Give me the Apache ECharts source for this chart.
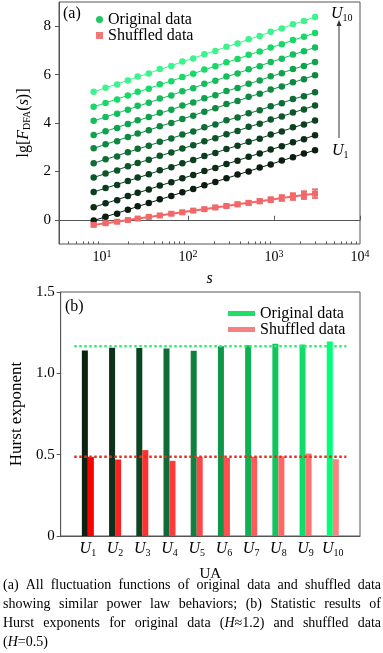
<!DOCTYPE html>
<html><head><meta charset="utf-8">
<script src="https://cdn.jsdelivr.net/npm/echarts@6/dist/echarts.min.js"></script>
<style>html,body{margin:0;padding:0;background:#fff}#c{width:383px;height:653px}</style>
</head><body><div id="c"></div>
<script>
// ---------- DATA ----------
const seriesNames = ['U1','U2','U3','U4','U5','U6','U7','U8','U9','U10'];
const sValues = [8, 11, 15, 20, 26, 35, 47, 64, 86, 115, 155, 208, 280, 377, 507, 682, 916, 1233, 1660, 2230, 3000];
const lgF_U1  = [-0.03, 0.13, 0.25, 0.42, 0.56, 0.69, 0.85, 0.98, 1.14, 1.27, 1.43, 1.56, 1.72, 1.87, 2.00, 2.16, 2.29, 2.45, 2.58, 2.74, 2.87];
const lgF_U2  = [0.52, 0.68, 0.81, 0.98, 1.12, 1.25, 1.42, 1.55, 1.72, 1.85, 2.02, 2.14, 2.31, 2.44, 2.61, 2.74, 2.91, 3.04, 3.20, 3.33, 3.49];
const lgF_U3  = [1.15, 1.31, 1.44, 1.60, 1.75, 1.88, 2.05, 2.17, 2.34, 2.47, 2.64, 2.76, 2.93, 3.06, 3.23, 3.35, 3.52, 3.65, 3.82, 3.94, 4.10];
const lgF_U4  = [1.75, 1.91, 2.04, 2.21, 2.35, 2.48, 2.65, 2.78, 2.95, 3.08, 3.25, 3.37, 3.54, 3.67, 3.84, 3.97, 4.14, 4.27, 4.43, 4.56, 4.72];
const lgF_U5  = [2.34, 2.50, 2.62, 2.79, 2.94, 3.06, 3.23, 3.36, 3.52, 3.65, 3.82, 3.94, 4.11, 4.23, 4.40, 4.53, 4.69, 4.82, 4.99, 5.11, 5.27];
const lgF_U6  = [2.96, 3.12, 3.25, 3.42, 3.57, 3.70, 3.87, 4.00, 4.17, 4.30, 4.47, 4.61, 4.78, 4.91, 5.08, 5.21, 5.38, 5.51, 5.68, 5.81, 5.97];
const lgF_U7  = [3.50, 3.66, 3.79, 3.96, 4.11, 4.25, 4.42, 4.55, 4.72, 4.85, 5.02, 5.15, 5.32, 5.45, 5.62, 5.76, 5.93, 6.06, 6.23, 6.36, 6.52];
const lgF_U8  = [4.09, 4.25, 4.38, 4.55, 4.71, 4.84, 5.01, 5.14, 5.31, 5.44, 5.62, 5.75, 5.92, 6.05, 6.22, 6.35, 6.52, 6.66, 6.83, 6.96, 7.12];
const lgF_U9  = [4.67, 4.83, 4.97, 5.14, 5.29, 5.42, 5.60, 5.73, 5.90, 6.03, 6.21, 6.34, 6.51, 6.64, 6.82, 6.95, 7.12, 7.25, 7.43, 7.56, 7.72];
const lgF_U10 = [5.29, 5.46, 5.59, 5.76, 5.92, 6.05, 6.23, 6.36, 6.54, 6.67, 6.84, 6.98, 7.15, 7.29, 7.46, 7.60, 7.77, 7.91, 8.08, 8.21, 8.38];
const lgF_shuffled    = [-0.21, -0.14, -0.08, -0.01, 0.05, 0.12, 0.18, 0.25, 0.31, 0.38, 0.44, 0.51, 0.57, 0.64, 0.70, 0.77, 0.83, 0.90, 0.96, 1.02, 1.08];
const lgF_shuffledErr = [0.05, 0.05, 0.05, 0.05, 0.05, 0.05, 0.05, 0.05, 0.06, 0.06, 0.06, 0.07, 0.07, 0.08, 0.08, 0.09, 0.10, 0.12, 0.14, 0.16, 0.18];
const hurstOriginal = [1.141, 1.158, 1.155, 1.153, 1.139, 1.167, 1.172, 1.182, 1.178, 1.196];
const hurstShuffled = [0.487, 0.470, 0.528, 0.462, 0.487, 0.480, 0.487, 0.490, 0.507, 0.472];
const hurstMeanOriginal = 1.167;
const hurstMeanShuffled = 0.487;
const meanLineSpan = [0.5, 10.5];
const xMajorTicks = [10, 100, 1000, 10000];
const xMinorTicks = [4,5,6,7,8,9,20,30,40,50,60,70,80,90,200,300,400,500,600,700,800,900,2000,3000,4000,5000,6000,7000,8000,9000];
const yTicksTop = [0, 2, 4, 6, 8];

// ---------- STYLE ----------
const F = '"Liberation Serif", "Times New Roman", serif';
const greens = ['#0b1c10','#0c2c17','#0c3f20','#0d552b','#0e6d36','#0f8842','#10a34e','#13be5b','#18d868','#3df48c'];
const barGreens = ['#0b2213','#0c3019','#0b4522','#0f6b37','#0f8040','#10984a','#10b054','#10c55e','#10dd69','#00ff78'];
const barReds = ['#ff0000','#ff2020','#ff3030','#ff3a3a','#ff4646','#ff5050','#ff5a5a','#ff6666','#ff7070','#ff8080'];
const shufColor = '#f26868';
const axisColor = '#555';
const allOrig = [lgF_U1,lgF_U2,lgF_U3,lgF_U4,lgF_U5,lgF_U6,lgF_U7,lgF_U8,lgF_U9,lgF_U10];

function fitLine(xs, ys) {
  const lx = xs.map(Math.log10), n = xs.length;
  const mx = lx.reduce((a,b)=>a+b,0)/n, my = ys.reduce((a,b)=>a+b,0)/n;
  let sxy = 0, sxx = 0;
  for (let i = 0; i < n; i++) { sxy += (lx[i]-mx)*(ys[i]-my); sxx += (lx[i]-mx)*(lx[i]-mx); }
  const b = sxy/sxx, a = my - b*mx;
  return [[xs[0], a + b*lx[0]], [xs[n-1], a + b*lx[n-1]]];
}

const series = [];
allOrig.forEach((arr, i) => {
  series.push({ name: 'fit ' + seriesNames[i], type: 'line', xAxisIndex: 0, yAxisIndex: 0,
    data: fitLine(sValues, arr), symbol: 'none', silent: true,
    lineStyle: { color: greens[i], width: 1 }, z: 2 });
  series.push({ name: 'Original data', type: 'scatter', xAxisIndex: 0, yAxisIndex: 0,
    data: sValues.map((s, k) => [s, arr[k]]), symbol: 'circle', symbolSize: 6.5,
    itemStyle: { color: greens[i], opacity: 1 }, z: 3 });
});
series.push({ name: 'Shuffled data', type: 'line', xAxisIndex: 0, yAxisIndex: 0,
  data: sValues.map((s, k) => [s, lgF_shuffled[k]]), symbol: 'rect', symbolSize: 6, showSymbol: true,
  lineStyle: { color: shufColor, width: 2 }, itemStyle: { color: shufColor }, z: 4 });
series.push({ name: 'Shuffled error', type: 'custom', xAxisIndex: 0, yAxisIndex: 0,
  data: sValues.map((s, k) => [s, lgF_shuffled[k] - lgF_shuffledErr[k], lgF_shuffled[k] + lgF_shuffledErr[k]]),
  encode: { x: 0, y: [1, 2] }, z: 4,
  renderItem: (params, api) => {
    const p1 = api.coord([api.value(0), api.value(1)]);
    const p2 = api.coord([api.value(0), api.value(2)]);
    const w = 3, st = { stroke: shufColor, lineWidth: 1.8 };
    return { type: 'group', children: [
      { type: 'line', shape: { x1: p1[0], y1: p1[1], x2: p2[0], y2: p2[1] }, style: st },
      { type: 'line', shape: { x1: p1[0]-w, y1: p1[1], x2: p1[0]+w, y2: p1[1] }, style: st },
      { type: 'line', shape: { x1: p2[0]-w, y1: p2[1], x2: p2[0]+w, y2: p2[1] }, style: st }
    ]};
  }
});
const catData = [''].concat(seriesNames, [' ']);
series.push({ name: 'Original data', type: 'bar', xAxisIndex: 2, yAxisIndex: 1, barWidth: 6, barGap: '0%',
  data: [null].concat(hurstOriginal.map((v, i) => ({ value: v, itemStyle: { color: barGreens[i] } })), [null]) });
series.push({ name: 'Shuffled data', type: 'bar', xAxisIndex: 2, yAxisIndex: 1, barWidth: 6, barGap: '0%',
  data: [null].concat(hurstShuffled.map((v, i) => ({ value: v, itemStyle: { color: barReds[i] } })), [null]) });
series.push({ name: 'H mean original', type: 'line', xAxisIndex: 3, yAxisIndex: 1, symbol: 'none', z: 5, silent: true,
  data: meanLineSpan.map(x => [x, hurstMeanOriginal]), lineStyle: { color: '#2ef070', width: 2.5, type: 'dotted' } });
series.push({ name: 'H mean shuffled', type: 'line', xAxisIndex: 3, yAxisIndex: 1, symbol: 'none', z: 5, silent: true,
  data: meanLineSpan.map(x => [x, hurstMeanShuffled]), lineStyle: { color: '#f02a18', width: 2.5, type: 'dotted' } });

// caption (justified)
const CAP = 14;
const mctx = document.createElement('canvas').getContext('2d');
function mw(t, it) { mctx.font = (it ? 'italic ' : '') + CAP + 'px "Liberation Serif"'; return mctx.measureText(t).width; }
function parseWord(w) {
  const parts = w.split('*'); let rich = '', width = 0;
  parts.forEach((p, i) => { if (!p) return; const it = i % 2 === 1; width += mw(p, it); rich += it ? '{i|' + p + '}' : p; });
  return { rich, width };
}
const captionLines = [
  ['(a) All fluctuation functions of original data and shuffled data', true],
  ['showing similar power law behaviors; (b) Statistic results of', true],
  ['Hurst exponents for original data (*H*≈1.2) and shuffled data', true],
  ['(*H*=0.5)', false]
];
const capY = [585, 604.5, 623.5, 642.5];
const capL = 3, capR = 381;
const graphics = [];
captionLines.forEach(([line, just], li) => {
  const words = line.split(' ').map(parseWord);
  const total = words.reduce((a, w) => a + w.width, 0);
  const gap = just ? Math.max(2, (capR - capL - total) / (words.length - 1)) : mw(' ', false);
  let x = capL;
  words.forEach(w => {
    graphics.push({ type: 'text', x: x, y: capY[li], silent: true,
      style: { text: w.rich, fontSize: CAP, fontFamily: F, fill: '#000', verticalAlign: 'middle', align: 'left',
        rich: { i: { fontStyle: 'italic', fontSize: CAP, fontFamily: F, fill: '#000' } } } });
    x += w.width + gap;
  });
});
const richU = { i: { fontStyle: 'italic', fontSize: 16, fontFamily: F, fill: '#000' }, sub: { fontSize: 10, fontFamily: F, fill: '#000', padding: [8, 0, 0, 0] } };
graphics.push(
  { type: 'text', x: 63, y: 14, style: { text: '(a)', fontSize: 16, fontFamily: F, fill: '#000', verticalAlign: 'middle' } },
  { type: 'text', x: 65, y: 307, style: { text: '(b)', fontSize: 16, fontFamily: F, fill: '#000', verticalAlign: 'middle' } },
  { type: 'text', x: 331, y: 14, style: { text: '{i|U}{sub|10}', fontSize: 16, fontFamily: F, fill: '#000', verticalAlign: 'middle', rich: richU } },
  { type: 'text', x: 332, y: 151, style: { text: '{i|U}{sub|1}', fontSize: 16, fontFamily: F, fill: '#000', verticalAlign: 'middle', rich: richU } },
  { type: 'line', shape: { x1: 339, y1: 138, x2: 339, y2: 25 }, style: { stroke: '#333', lineWidth: 1 } },
  { type: 'polygon', shape: { points: [[339, 20], [336.5, 26], [341.5, 26]] }, style: { fill: '#333' } }
);

const labelBase = { color: '#000', fontFamily: F };
const option = {
  animation: false,
  backgroundColor: '#fff',
  textStyle: { fontFamily: F },
  grid: [
    { left: 59, right: 23, top: 2, bottom: 409, show: true, borderColor: axisColor, borderWidth: 1, backgroundColor: 'transparent' },
    { left: 59, right: 23, top: 292, bottom: 117, show: true, borderColor: axisColor, borderWidth: 1, backgroundColor: 'transparent' }
  ],
  legend: [
    { left: 91, top: 6.5, orient: 'vertical', itemWidth: 7, itemHeight: 7, itemGap: 0, selectedMode: false,
      textStyle: { fontFamily: F, fontSize: 16, color: '#000', lineHeight: 15 },
      data: [ { name: 'Original data', icon: 'circle', itemStyle: { color: '#1ec864' } },
              { name: 'Shuffled data', icon: 'rect', itemStyle: { color: '#f07878' } } ] },
    { left: 223, top: 300.5, orient: 'vertical', itemWidth: 27, itemHeight: 5, itemGap: 0, selectedMode: false,
      textStyle: { fontFamily: F, fontSize: 16, color: '#000', lineHeight: 15 },
      data: [ { name: 'Original data', icon: 'rect', itemStyle: { color: '#1ee066' } },
              { name: 'Shuffled data', icon: 'rect', itemStyle: { color: '#f88080' } } ] }
  ],
  xAxis: [
    { type: 'log', logBase: 10, gridIndex: 0, min: Math.sqrt(10), max: 10000,
      name: 's', nameLocation: 'middle', nameGap: 27,
      nameTextStyle: { fontFamily: F, fontStyle: 'italic', fontSize: 16, color: '#000' },
      axisLine: { lineStyle: { color: axisColor } },
      axisTick: { inside: true, length: 4, customValues: xMajorTicks, lineStyle: { color: axisColor } },
      axisLabel: Object.assign({}, labelBase, { fontSize: 14, margin: 5, customValues: xMajorTicks,
        formatter: v => '10{sup|' + Math.round(Math.log10(v)) + '}',
        rich: { sup: { fontSize: 10, fontFamily: F, color: '#000', padding: [0, 0, 7, 0] } } }),
      splitLine: { show: false } },
    { type: 'log', logBase: 10, gridIndex: 0, min: Math.sqrt(10), max: 10000, position: 'bottom',
      axisLine: { show: false }, axisLabel: { show: false },
      axisTick: { inside: true, length: 2.5, customValues: xMinorTicks, lineStyle: { color: axisColor } },
      splitLine: { show: false } },
    { type: 'category', gridIndex: 1, data: catData, boundaryGap: false,
      name: 'UA', nameLocation: 'middle', nameGap: 31,
      nameTextStyle: { fontFamily: F, fontSize: 15, color: '#000' },
      axisLine: { lineStyle: { color: axisColor } }, axisTick: { show: false },
      axisLabel: Object.assign({}, labelBase, { fontSize: 16, margin: 4, interval: 0,
        formatter: v => v.trim() ? '{i|U}{sub|' + v.slice(1) + '}' : '',
        rich: { i: { fontStyle: 'italic', fontSize: 16, fontFamily: F, color: '#000' },
                sub: { fontSize: 10, fontFamily: F, color: '#000', padding: [8, 0, 0, 0] } } }),
      splitLine: { show: false } },
    { type: 'value', gridIndex: 1, min: 0, max: 11, show: false }
  ],
  yAxis: [
    { type: 'value', gridIndex: 0, min: -1, max: 9,
      name: 'lg[{i|F}{sub|DFA}({i|s})]', nameLocation: 'middle', nameRotate: 90, nameGap: 19,
      nameTextStyle: { fontFamily: F, fontSize: 16, color: '#000',
        rich: { i: { fontStyle: 'italic', fontSize: 16, fontFamily: F, color: '#000' },
                sub: { fontSize: 10, fontFamily: F, color: '#000', padding: [8, 0, 0, 0] } } },
      axisLine: { show: true, lineStyle: { color: axisColor } },
      axisTick: { show: true, length: 4, customValues: yTicksTop, lineStyle: { color: axisColor } },
      axisLabel: Object.assign({}, labelBase, { fontSize: 15, margin: 8, customValues: yTicksTop }),
      splitLine: { show: false } },
    { type: 'value', gridIndex: 1, min: 0, max: 1.5, interval: 0.5,
      name: 'Hurst exponent', nameLocation: 'middle', nameRotate: 90, nameGap: 29,
      nameTextStyle: { fontFamily: F, fontSize: 17, color: '#000' },
      axisLine: { show: true, lineStyle: { color: axisColor } },
      axisTick: { show: true, length: 4, lineStyle: { color: axisColor } },
      axisLabel: Object.assign({}, labelBase, { fontSize: 15, margin: 6,
        formatter: v => v === 0 ? '0' : v.toFixed(1) }),
      splitLine: { show: false } }
  ],
  series: series,
  graphic: graphics
};
const chart = echarts.init(document.getElementById('c'), null, { renderer: 'canvas' });
chart.setOption(option);
</script>
</body></html>
